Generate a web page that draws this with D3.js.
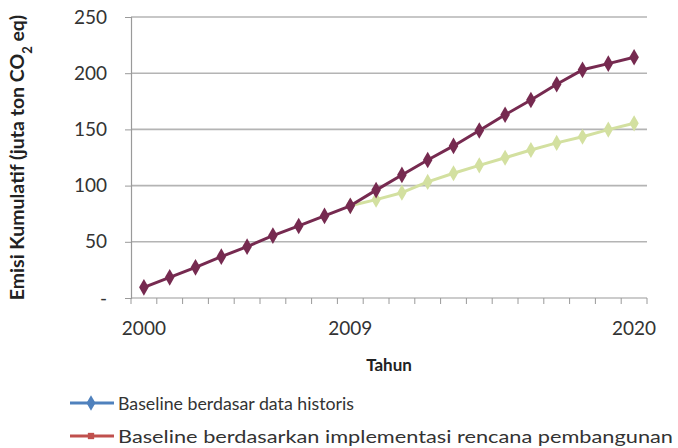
<!DOCTYPE html>
<html>
<head>
<meta charset="utf-8">
<script src="https://cdn.jsdelivr.net/npm/d3@7"></script>
<style>
  html, body { margin: 0; padding: 0; background: #fff; }
  svg { display: block; font-family: Lato, "Open Sans", sans-serif; }
</style>
</head>
<body>
<svg id="chart" width="678" height="448"></svg>
<script>
// Year slots along the category axis and the labels shown under them
const categories = d3.range(20);
const tickLabels = ["2000", "", "", "", "", "", "", "", "2009", "", "", "", "", "", "", "", "", "", "", "2020"];

// Cumulative emissions (million tonnes CO2 eq)
const planValues = [9.5, 18.4, 27.3, 36.8, 45.7, 55.5, 64.1, 73, 82, 96,
                    109.5, 122.8, 135.3, 149, 163, 176.2, 190.2, 203, 208.5, 214.2];
const historicTrendValues = [null, null, null, null, null, null, null, null, 82, 87.5,
                             93.7, 103.3, 111, 118, 124.8, 131.7, 138, 143.5, 149.8, 155.4];

const yTicks = [0, 50, 100, 150, 200, 250];

const legendItems = [
  { name: "Baseline berdasar data historis", color: "#4f81bd", width: 236 },
  { name: "Baseline berdasarkan implementasi rencana pembangunan", color: "#c0504d", width: 555 }
];

const svg = d3.select("#chart");
const plot = { left: 131, right: 647, top: 17, bottom: 298 };

const x = d3.scaleBand().domain(categories).range([plot.left, plot.right]).padding(0);
const y = d3.scaleLinear().domain([0, 250]).range([plot.bottom, plot.top]);
const cx = i => x(i) + x.bandwidth() / 2;

// Horizontal gridlines
svg.append("g")
  .selectAll("line")
  .data(yTicks.filter(t => t > 0))
  .join("line")
  .attr("x1", plot.left).attr("x2", plot.right)
  .attr("y1", d => y(d)).attr("y2", d => y(d))
  .attr("stroke", "#b4b4b4").attr("stroke-width", 1.6);

// Y axis
const yAxis = svg.append("g")
  .attr("transform", `translate(${plot.left},0)`)
  .call(d3.axisLeft(y).tickValues(yTicks).tickSize(6).tickPadding(18)
    .tickFormat(d => d === 0 ? "-" : d3.format("d")(d)));
yAxis.select(".domain").attr("stroke", "#9a9a9a").attr("stroke-width", 1.2);
yAxis.selectAll(".tick line").attr("stroke", "#9a9a9a");
yAxis.selectAll(".tick text").attr("font-size", 19).attr("fill", "#333")
  .attr("font-family", "Lato, 'Open Sans', sans-serif");

// X axis: ticks on band boundaries, labels at band centres
const xAxisG = svg.append("g").attr("transform", `translate(0,${plot.bottom})`);
xAxisG.append("line")
  .attr("x1", plot.left).attr("x2", plot.right)
  .attr("stroke", "#9a9a9a").attr("stroke-width", 1.2);
xAxisG.selectAll("line.tk")
  .data(categories.concat([categories.length]))
  .join("line").attr("class", "tk")
  .attr("x1", i => i < categories.length ? x(i) : plot.right)
  .attr("x2", i => i < categories.length ? x(i) : plot.right)
  .attr("y1", 0).attr("y2", 6)
  .attr("stroke", "#9a9a9a");
xAxisG.selectAll("text")
  .data(categories.filter(i => tickLabels[i] !== ""))
  .join("text")
  .attr("x", i => cx(i)).attr("y", 37)
  .attr("text-anchor", "middle")
  .attr("font-size", 19).attr("fill", "#333")
  .text(i => tickLabels[i]);

// Axis titles
svg.append("text")
  .attr("x", (plot.left + plot.right) / 2).attr("y", 371)
  .attr("text-anchor", "middle")
  .attr("font-size", 17).attr("font-weight", "bold").attr("fill", "#222")
  .text("Tahun");

const yTitle = svg.append("text")
  .attr("transform", `translate(24,${(plot.top + plot.bottom) / 2}) rotate(-90)`)
  .attr("text-anchor", "middle")
  .attr("font-size", 19.5).attr("font-weight", "bold").attr("fill", "#222");
yTitle.append("tspan").text("Emisi Kumulatif (juta ton CO");
yTitle.append("tspan").attr("baseline-shift", "sub").attr("font-size", 13).text("2");
yTitle.append("tspan").text(" eq)");

// Series lines with diamond markers
const diamond = d3.symbol().type(d3.symbolDiamond).size(70);

function drawSeries(values, color, markerSize) {
  const pts = values.map((v, i) => ({ i, v })).filter(d => d.v !== null);
  const line = d3.line().x(d => cx(d.i)).y(d => y(d.v));
  svg.append("path")
    .datum(pts)
    .attr("d", line)
    .attr("fill", "none")
    .attr("stroke", color)
    .attr("stroke-width", 3)
    .attr("stroke-linejoin", "round");
  svg.append("g")
    .selectAll("path")
    .data(pts)
    .join("path")
    .attr("transform", d => `translate(${cx(d.i)},${y(d.v)})`)
    .attr("d", d3.symbol().type(d3.symbolDiamond).size(markerSize))
    .attr("fill", color);
}

drawSeries(historicTrendValues, "#d3e0a0", 75);
drawSeries(planValues, "#762a50", 80);

// Legend
const legend = svg.append("g");
const legendRows = [403, 436];
legendItems.forEach((item, k) => {
  const ly = legendRows[k];
  legend.append("line")
    .attr("x1", 70).attr("x2", 114)
    .attr("y1", ly).attr("y2", ly)
    .attr("stroke", item.color).attr("stroke-width", 3);
  legend.append("path")
    .attr("transform", `translate(91,${ly})`)
    .attr("d", k === 0 ? diamond() : d3.symbol().type(d3.symbolSquare).size(40)())
    .attr("fill", item.color);
  legend.append("text")
    .attr("x", 118).attr("y", ly)
    .attr("dominant-baseline", "central")
    .attr("font-size", 18).attr("fill", "#333")
    .attr("textLength", item.width).attr("lengthAdjust", "spacingAndGlyphs")
    .text(item.name);
});
</script>
</body>
</html>
